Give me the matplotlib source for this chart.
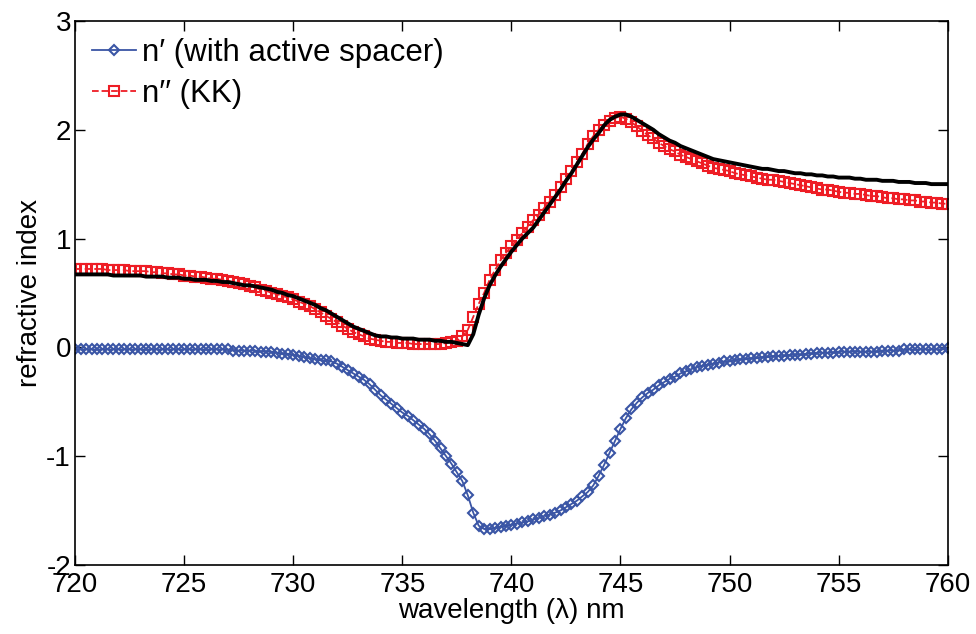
import numpy as np
import matplotlib
matplotlib.use("Agg")
import matplotlib.pyplot as plt

# wavelength grid, 0.25 nm steps (720 ... 760)
wl = np.arange(161) * 0.25 + 720

n_real = [
    -0.02, -0.02, -0.02, -0.02, -0.02, -0.02, -0.02, -0.02,
    -0.02, -0.02, -0.02, -0.02, -0.02, -0.02, -0.02, -0.02,
    -0.02, -0.02, -0.02, -0.02, -0.02, -0.02, -0.02, -0.02,
    -0.02, -0.02, -0.02, -0.02, -0.02, -0.03, -0.03, -0.03,
    -0.03, -0.03, -0.04, -0.04, -0.04, -0.05, -0.06, -0.06,
    -0.07, -0.08, -0.09, -0.10, -0.11, -0.12, -0.12, -0.13,
    -0.15, -0.18, -0.21, -0.24, -0.27, -0.30, -0.34, -0.39,
    -0.44, -0.48, -0.52, -0.56, -0.60, -0.63, -0.67, -0.71,
    -0.75, -0.80, -0.86, -0.93, -1.00, -1.07, -1.15, -1.23,
    -1.36, -1.52, -1.64, -1.67, -1.67, -1.66, -1.65, -1.64,
    -1.63, -1.62, -1.61, -1.60, -1.58, -1.57, -1.55, -1.54,
    -1.52, -1.50, -1.47, -1.44, -1.41, -1.37, -1.33, -1.27,
    -1.18, -1.08, -0.97, -0.86, -0.75, -0.65, -0.57, -0.51,
    -0.46, -0.42, -0.39, -0.35, -0.32, -0.29, -0.27, -0.24,
    -0.22, -0.20, -0.18, -0.17, -0.16, -0.15, -0.14, -0.13,
    -0.13, -0.12, -0.11, -0.11, -0.10, -0.10, -0.09, -0.09,
    -0.08, -0.08, -0.08, -0.07, -0.07, -0.07, -0.06, -0.06,
    -0.05, -0.05, -0.05, -0.05, -0.04, -0.04, -0.04, -0.04,
    -0.04, -0.04, -0.04, -0.04, -0.03, -0.03, -0.03, -0.03,
    -0.02, -0.02, -0.02, -0.02, -0.02, -0.02, -0.02, -0.02,
    -0.01,
]

n_kk = [
    0.72, 0.72, 0.72, 0.72, 0.72, 0.72, 0.71, 0.71,
    0.71, 0.71, 0.70, 0.70, 0.70, 0.70, 0.69, 0.69,
    0.68, 0.68, 0.67, 0.67, 0.66, 0.66, 0.65, 0.65,
    0.64, 0.63, 0.63, 0.62, 0.61, 0.60, 0.59, 0.58,
    0.56, 0.55, 0.53, 0.52, 0.50, 0.49, 0.47, 0.46,
    0.44, 0.42, 0.40, 0.38, 0.35, 0.32, 0.29, 0.26,
    0.23, 0.20, 0.17, 0.14, 0.12, 0.10, 0.08, 0.07,
    0.06, 0.05, 0.05, 0.04, 0.04, 0.04, 0.03, 0.03,
    0.03, 0.03, 0.03, 0.03, 0.04, 0.05, 0.06, 0.10,
    0.16, 0.28, 0.40, 0.50, 0.62, 0.71, 0.80, 0.87,
    0.93, 0.99, 1.05, 1.11, 1.17, 1.22, 1.28, 1.34,
    1.40, 1.47, 1.55, 1.62, 1.70, 1.78, 1.87, 1.94,
    2.00, 2.04, 2.08, 2.11, 2.12, 2.10, 2.07, 2.03,
    1.99, 1.95, 1.92, 1.88, 1.85, 1.82, 1.80, 1.77,
    1.75, 1.73, 1.71, 1.69, 1.67, 1.65, 1.64, 1.63,
    1.62, 1.60, 1.59, 1.58, 1.57, 1.56, 1.55, 1.54,
    1.54, 1.53, 1.52, 1.51, 1.50, 1.49, 1.48, 1.47,
    1.46, 1.45, 1.45, 1.44, 1.43, 1.42, 1.42, 1.41,
    1.41, 1.40, 1.39, 1.39, 1.38, 1.37, 1.37, 1.36,
    1.36, 1.35, 1.35, 1.34, 1.34, 1.33, 1.33, 1.32,
    1.32,
]

n_imag = [
    0.67, 0.67, 0.67, 0.67, 0.67, 0.67, 0.67, 0.66,
    0.66, 0.66, 0.66, 0.66, 0.66, 0.65, 0.65, 0.65,
    0.65, 0.64, 0.64, 0.64, 0.63, 0.63, 0.62, 0.62,
    0.62, 0.61, 0.61, 0.60, 0.60, 0.59, 0.58, 0.57,
    0.57, 0.56, 0.55, 0.54, 0.53, 0.51, 0.50, 0.48,
    0.47, 0.45, 0.43, 0.41, 0.39, 0.36, 0.34, 0.31,
    0.28, 0.25, 0.22, 0.19, 0.17, 0.15, 0.13, 0.11,
    0.10, 0.10, 0.09, 0.09, 0.08, 0.08, 0.08, 0.07,
    0.07, 0.07, 0.06, 0.06, 0.05, 0.05, 0.04, 0.03,
    0.02, 0.12, 0.30, 0.45, 0.57, 0.66, 0.74, 0.81,
    0.88, 0.94, 1.00, 1.05, 1.10, 1.17, 1.24, 1.31,
    1.38, 1.45, 1.53, 1.60, 1.68, 1.76, 1.84, 1.91,
    1.97, 2.04, 2.09, 2.12, 2.14, 2.14, 2.12, 2.09,
    2.06, 2.03, 2.00, 1.96, 1.93, 1.90, 1.88, 1.85,
    1.83, 1.81, 1.79, 1.77, 1.75, 1.73, 1.72, 1.71,
    1.70, 1.69, 1.68, 1.67, 1.66, 1.65, 1.64, 1.64,
    1.63, 1.62, 1.62, 1.61, 1.60, 1.60, 1.59, 1.59,
    1.58, 1.58, 1.57, 1.57, 1.56, 1.56, 1.56, 1.55,
    1.55, 1.54, 1.54, 1.54, 1.53, 1.53, 1.53, 1.52,
    1.52, 1.52, 1.51, 1.51, 1.51, 1.50, 1.50, 1.50,
    1.50,
]

xticks = [720, 725, 730, 735, 740, 745, 750, 755, 760]
yticks = [-2, -1, 0, 1, 2, 3]

plt.rcParams['font.family'] = ['Liberation Sans', 'DejaVu Sans']
plt.rcParams['axes.unicode_minus'] = False

fig = plt.figure(figsize=(9.76, 6.34), dpi=100)
ax = fig.add_axes([0.077, 0.109, 0.894, 0.858])

blue = '#3A55A5'
red = '#EE1D25'

ax.plot(wl, n_real, color=blue, lw=1.3, marker='D', ms=5.5, mfc='none',
        mec=blue, mew=1.5, label='n′ (with active spacer)')
ax.plot(wl, n_kk, color=red, lw=1.3, ls='--', marker='s', ms=6.5, mfc='none',
        mec=red, mew=1.5, label='n′′ (KK)')
ax.plot(wl, n_imag, color='black', lw=2.8)

ax.set_xlim(720, 760)
ax.set_ylim(-2, 3)
ax.set_xticks(xticks)
ax.set_yticks(yticks)
ax.tick_params(direction='in', top=True, right=True, length=7, width=1, labelsize=20)
ax.tick_params(axis='x', pad=5)
ax.tick_params(axis='y', pad=3)
for s in ax.spines.values():
    s.set_linewidth(1.2)

ax.set_xlabel('wavelength (λ) nm', fontsize=20, labelpad=0)
ax.set_ylabel('refractive index', fontsize=20, labelpad=2)

ax.legend(loc='upper left', frameon=False, fontsize=22.5, numpoints=1,
          handlelength=1.4, handletextpad=0.2, borderaxespad=0.25,
          borderpad=0.3, labelspacing=0.35)

fig.savefig('out.png', dpi=100)
